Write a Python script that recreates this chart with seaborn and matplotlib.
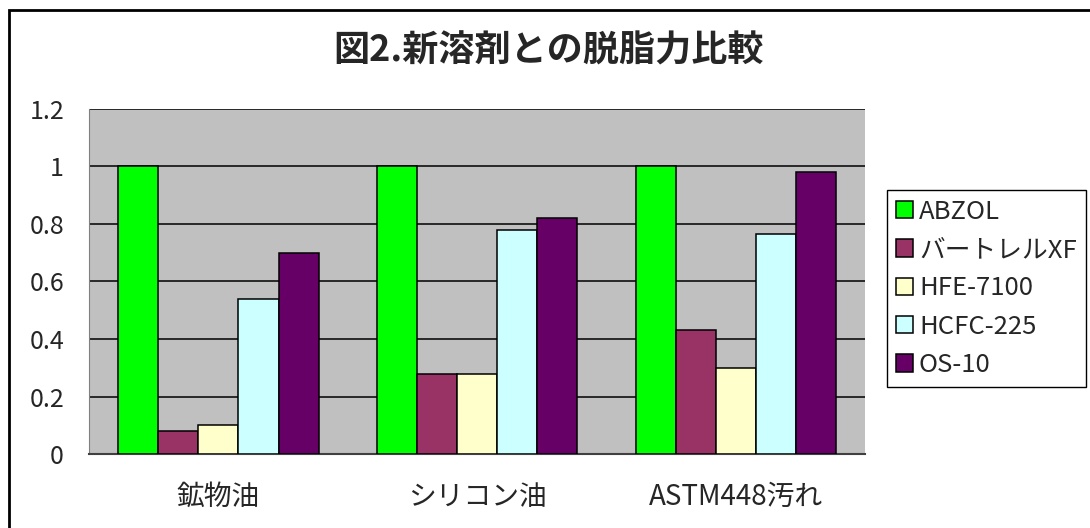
import pandas as pd
import matplotlib
matplotlib.use("Agg")
import matplotlib.pyplot as plt
from matplotlib.patches import Rectangle
import seaborn as sns

# Data
categories = ["鉱物油", "シリコン油", "ASTM448汚れ"]
solvents = ["ABZOL", "バートレルXF", "HFE-7100", "HCFC-225", "OS-10"]
abzol = [1.00, 1.00, 1.00]
vertrel_xf = [0.08, 0.28, 0.43]
hfe_7100 = [0.10, 0.28, 0.30]
hcfc_225 = [0.54, 0.78, 0.765]
os_10 = [0.70, 0.82, 0.98]
colors = ["#00FF00", "#993366", "#FFFFCC", "#CCFFFF", "#660066"]

series = [abzol, vertrel_xf, hfe_7100, hcfc_225, os_10]
rows = []
for name, vals in zip(solvents, series):
    for cat, v in zip(categories, vals):
        rows.append({"category": cat, "solvent": name, "value": v})
df = pd.DataFrame(rows)

sns.set_style("white")
plt.rcParams["font.family"] = ["Noto Sans CJK JP", "DejaVu Sans"]

fig = plt.figure(figsize=(10.9, 5.28), dpi=100)
ax = fig.add_axes([0.0817, 0.14, 0.712, 0.654])

sns.barplot(data=df, x="category", y="value", hue="solvent",
            order=categories, hue_order=solvents, palette=colors,
            saturation=1, width=0.775, edgecolor="black", linewidth=1.1,
            ax=ax, zorder=3)

ax.set_facecolor("#C0C0C0")
ax.set_ylim(0, 1.2)
ax.set_xlim(-0.5, 2.5)
ax.set_yticks([0, 0.2, 0.4, 0.6, 0.8, 1.0, 1.2])
ax.set_yticklabels(["0", "0.2", "0.4", "0.6", "0.8", "1", "1.2"])
ax.yaxis.grid(True, color="black", linewidth=1.1, zorder=1)
ax.set_axisbelow(True)
ax.set_xlabel("")
ax.set_ylabel("")
ax.tick_params(axis="y", length=0, labelsize=18, pad=18)
ax.tick_params(axis="x", length=0, labelsize=20, pad=20)
ax.set_xticks([0.5, 1.5], minor=True)
ax.tick_params(axis="x", which="minor", direction="in", length=9,
               width=1, color="#606060")

for side in ["top", "right"]:
    ax.spines[side].set_visible(False)
ax.spines["left"].set_color("#808080")
ax.spines["bottom"].set_color("#404040")
ax.spines["bottom"].set_linewidth(1.5)

handles, labels = ax.get_legend_handles_labels()
ax.legend(handles, labels, loc="center left", bbox_to_anchor=(1.028, 0.48),
          fontsize=18.5, frameon=True, fancybox=False, edgecolor="black",
          framealpha=1, handlelength=0.65, handleheight=0.65,
          handletextpad=0.25, labelspacing=0.48, borderpad=0.35,
          borderaxespad=0)

fig.text(0.503, 0.903, "図2.新溶剤との脱脂力比較", ha="center", va="center",
         fontsize=26, fontweight="bold")

# Outer chart frame (left and top edges visible)
fig.patches.append(Rectangle((0.0083, -0.2), 1.2, 0.981 + 0.2,
                             transform=fig.transFigure, fill=False,
                             edgecolor="black", linewidth=2, clip_on=False))

fig.savefig("out.png", dpi=100)
